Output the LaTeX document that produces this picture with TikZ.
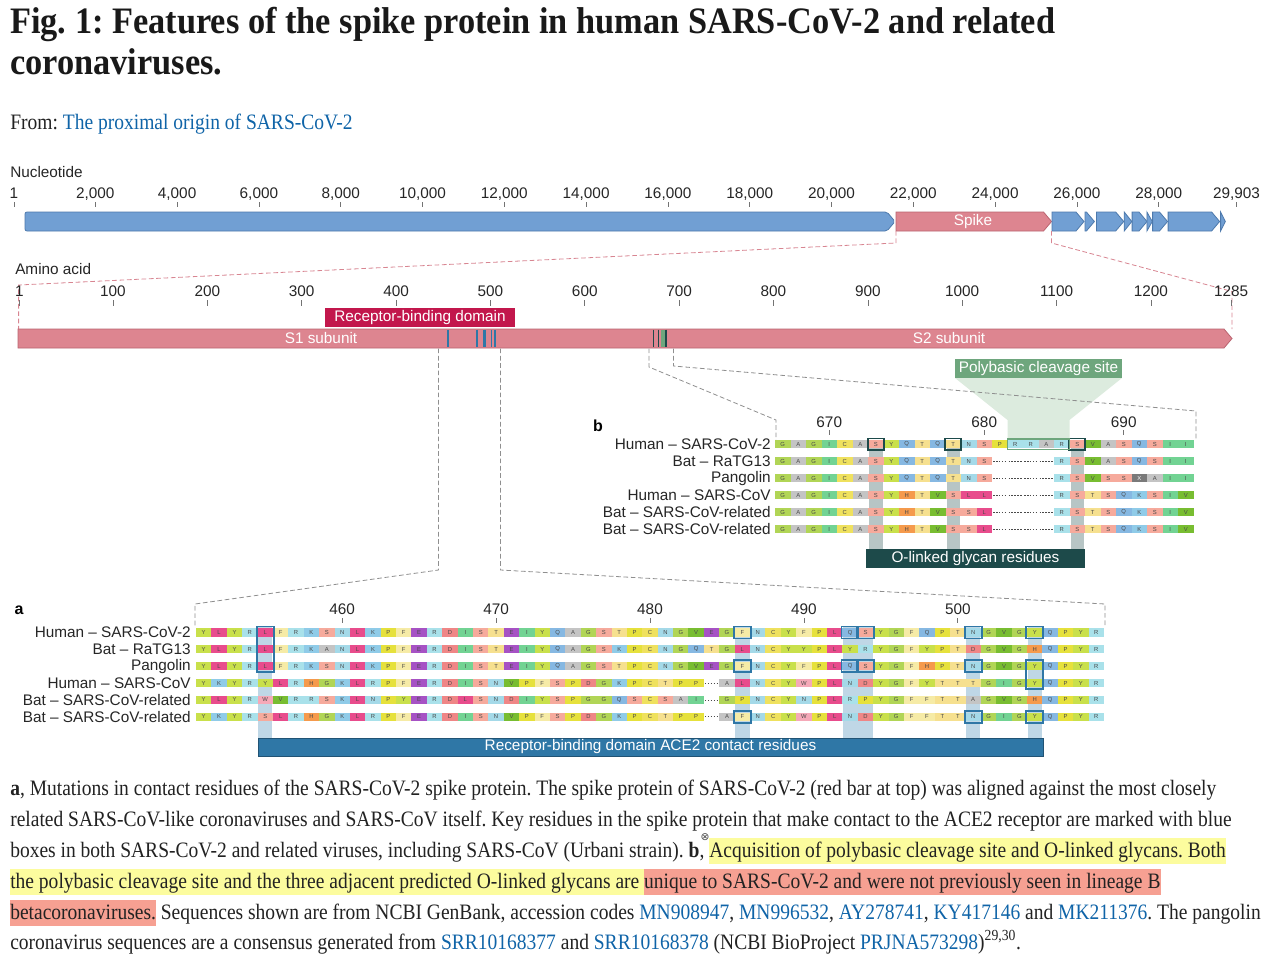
\documentclass[tikz,border=0pt]{standalone}
\usepackage{fontspec}
\setmainfont{Liberation Serif}
\setsansfont{Liberation Sans}
\newfontfamily\capfont[FakeStretch=0.887]{Liberation Serif}
\newfontfamily\headfont[FakeStretch=0.92]{Liberation Serif}
\newfontfamily\marksymbol{DejaVu Sans}
\frenchspacing

\definecolor{geneblue}{HTML}{719FD3}
\definecolor{genebluedark}{HTML}{4D79AC}
\definecolor{spikepink}{HTML}{DD8590}
\definecolor{spikepinkdark}{HTML}{BA6470}
\definecolor{rbdred}{HTML}{C2174C}
\definecolor{polygreen}{HTML}{6EA67D}
\definecolor{polylight}{HTML}{D7E8D9}
\definecolor{olinked}{HTML}{1D4A4A}
\definecolor{olinkband}{HTML}{B7C5C5}
\definecolor{ace2blue}{HTML}{2F77A6}
\definecolor{ace2band}{HTML}{BFD7E6}
\definecolor{linkblue}{HTML}{0F64A8}
\definecolor{captext}{HTML}{222222}
\definecolor{hlyellow}{HTML}{FCFC9E}
\definecolor{hlsalmon}{HTML}{F6A092}
\definecolor{zoomgrey}{HTML}{8F8F8F}
\definecolor{zoompink}{HTML}{D88591}
\definecolor{celltext}{HTML}{4A4A4A}
% residue colours
\definecolor{aaA}{HTML}{C4C4C4}
\definecolor{aaC}{HTML}{EFE15E}
\definecolor{aaD}{HTML}{EF8686}
\definecolor{aaE}{HTML}{A652C4}
\definecolor{aaF}{HTML}{F6EBA6}
\definecolor{aaG}{HTML}{B1D556}
\definecolor{aaH}{HTML}{F59A4C}
\definecolor{aaI}{HTML}{72D393}
\definecolor{aaK}{HTML}{8FCBE8}
\definecolor{aaL}{HTML}{E84C8C}
\definecolor{aaN}{HTML}{A4D9E8}
\definecolor{aaP}{HTML}{E6E13C}
\definecolor{aaQ}{HTML}{86B8E2}
\definecolor{aaR}{HTML}{A9E1EA}
\definecolor{aaS}{HTML}{F6AA9C}
\definecolor{aaT}{HTML}{F6E08F}
\definecolor{aaV}{HTML}{78BD31}
\definecolor{aaW}{HTML}{F5A9B8}
\definecolor{aaX}{HTML}{7A7A7A}
\definecolor{aaY}{HTML}{C9E04B}

\tikzset{
  titletext/.style={anchor=base west, inner sep=0pt, text=black!90, font=\headfont\fontsize{28}{32}\selectfont\bfseries},
  captext/.style={anchor=base west, inner sep=0pt, text=captext, font=\capfont\fontsize{16.5}{19}\selectfont},
  axislabel/.style={anchor=base west, inner sep=0pt, text=black!85, font=\fontsize{11.5}{12}\selectfont\sffamily},
  ticklabel/.style={anchor=base, inner sep=0pt, text=black!85, font=\fontsize{11.5}{12}\selectfont\sffamily},
  seqname/.style={anchor=east, inner sep=0pt, text=black!85, font=\fontsize{11.5}{12}\selectfont\sffamily},
  panellabel/.style={inner sep=0pt, font=\fontsize{12}{12}\selectfont\sffamily\bfseries},
  boxlabel/.style={inner sep=0pt, text=white, font=\fontsize{11.5}{12}\selectfont\sffamily},
  bartext/.style={inner sep=0pt, text=white, font=\fontsize{11.5}{12}\selectfont\sffamily},
  tick/.style={draw=black!55, line width=0.5},
  genebar/.style={draw=genebluedark, fill=geneblue, line width=0.6},
  spikegene/.style={draw=spikepinkdark, fill=spikepink, line width=0.6},
  spikezoom/.style={draw=zoompink, line width=0.6, dash pattern=on 3.5pt off 2pt},
  zoomline/.style={draw=zoomgrey, line width=0.6, dash pattern=on 3.5pt off 2pt},
  ace2stripe/.style={draw=ace2blue, line width=1.2},
  oglystripe/.style={draw=olinked, line width=1.2},
  rescell/.style={inner sep=0pt, minimum height=6.2pt, font=\fontsize{4.4}{4.4}\selectfont\sffamily},
  gapline/.style={draw=celltext, line width=0.4, dash pattern=on 1.2pt off 1pt},
  ace2box/.style={draw=ace2blue, line width=1.3},
  oglybox/.style={draw=olinked, line width=1.3},
  polybox/.style={draw=polygreen, line width=1.3}
}

% one aligned sequence: name, x of first cell edge, y, cell width, residues
\newcommand\seqrow[5]{%
  \foreach \s [count=\i from 0] in {#5}{%
    \if\s-%
      \draw[gapline] ({#2+\i*#4+1},#3) -- ({#2+(\i+1)*#4-1},#3);
    \else
      \if\s X\def\celltc{white}\else\def\celltc{celltext}\fi
      \node[rescell, minimum width=#4*0.75pt, fill=aa\s, text=\celltc] (#1-\i) at ({#2+(\i+0.5)*#4},#3) {\s};
    \fi}}
\newcommand\hly[1]{{\setlength\fboxsep{0pt}\colorbox{hlyellow}{\rule[-5pt]{0pt}{19.5pt}#1}}}
\newcommand\hls[1]{{\setlength\fboxsep{0pt}\colorbox{hlsalmon}{\rule[-5pt]{0pt}{19.5pt}#1}}}
\newcommand\lnk[1]{\textcolor{linkblue}{#1}}

\begin{document}
\begin{tikzpicture}[x=0.75pt,y=0.75pt,yscale=-1,xscale=1]
\useasboundingbox (0,0) rectangle (1272,968);
\fill[white] (0,0) rectangle (1272,968);

%Text Node
\node[titletext] (title1) at (10,33) {Fig. 1: Features of the spike protein in human SARS-CoV-2 and related};
%Text Node
\node[titletext] (title2) at (10,74) {coronaviruses.};
%Text Node
\node[captext] (from) at (10,129) {From: \lnk{The proximal origin of SARS-CoV-2}};

%Text Node
\node[axislabel] (nucl) at (10,177) {Nucleotide};
%Text Node
\node[axislabel] (amino) at (15,274) {Amino acid};

%Straight Lines: nucleotide ticks
\draw[tick] (14,202) -- (14,207);
\node[ticklabel] (nt1) at (14,198) {1};
\foreach \val in {2,4,...,28}{
  \draw[tick] ({13.5+\val*40.9},202) -- ({13.5+\val*40.9},207);
  \node[ticklabel] (nt\val) at ({13.5+\val*40.9},198) {\val,000};
}
\draw[tick] (1236.5,202) -- (1236.5,207);
\node[ticklabel] (nt29903) at (1236.5,198) {29,903};

%Shape: ORF1ab
\draw[genebar, rounded corners=1.5] (25,212) -- (887,212) -- (895,221.5) -- (887,231) -- (25,231) -- cycle;
%Shape: Spike gene
\draw[spikegene] (896,212) -- (1043.5,212) -- (1051.5,221.5) -- (1043.5,231) -- (896,231) -- cycle;
\node[bartext] (spike) at (973,221.5) {Spike};
%Shape: accessory genes
\foreach \a/\b in {1052/1084, 1085/1094.4, 1096.4/1123.7, 1124.2/1131.8, 1132.1/1147, 1146.9/1152.3, 1152.6/1167.5, 1168.1/1219.6, 1220.6/1225.3}{
  \pgfmathsetmacro\tip{min(8,\b-\a)}
  \draw[genebar] (\a,212) -- ({\b-\tip},212) -- (\b,221.5) -- ({\b-\tip},231) -- (\a,231) -- cycle;
}

%Straight Lines: spike zoom
\coordinate (spikeL) at (896,231);
\coordinate (spikeR) at (1051.5,231);
\coordinate (protL) at (18.6,329);
\coordinate (protR) at (1232,329);
\draw[spikezoom] (spikeL) -- ++(0,12) -- (18.6,285) -- (protL);
\draw[spikezoom] (spikeR) -- ++(0,12) -- (1232,291.5) -- (protR);

%Straight Lines: amino acid ticks
\draw[tick] (19.5,300) -- (19.5,306);
\node[ticklabel] (at1) at (19.5,296) {1};
\foreach \val in {100,200,...,1200}{
  \draw[tick] ({18.6+0.9436*\val},300) -- ({18.6+0.9436*\val},306);
  \node[ticklabel] (at\val) at ({18.6+0.9436*\val},296) {\val};
}
\draw[tick] (1231.1,300) -- (1231.1,306);
\node[ticklabel] (at1285) at (1231.1,296) {1285};

%Shape: S protein
\draw[spikegene] (18,329) -- (1224,329) -- (1232,338.5) -- (1224,348) -- (18,348) -- cycle;
\node[bartext] (s1) at (321,338.5) {S1 subunit};
\node[bartext] (s2) at (949,338.5) {S2 subunit};
\foreach \val in {455,486,493,494,501,505}
  \draw[ace2stripe] ({18.6+0.9436*\val},329.6) -- ({18.6+0.9436*\val},347.4);
\fill[polygreen] ({18.6+0.9436*681},329.6) rectangle ({18.6+0.9436*685},347.4);
\foreach \val in {673,678,686}
  \draw[oglystripe] ({18.6+0.9436*\val},329.6) -- ({18.6+0.9436*\val},347.4);

%Shape: Rectangle
\node[boxlabel, fill=rbdred, minimum width=142.5pt, minimum height=14.25pt] (rbd) at (420,317.5) {Receptor-binding domain};

%Shape: cleavage funnel
\fill[polylight, opacity=0.85] (955,378) -- (1122,378) -- (1069.5,420) -- (1069.5,440) -- (1007.5,440) -- (1007.5,420) -- cycle;
%Shape: Rectangle
\node[boxlabel, fill=polygreen, minimum width=125.25pt, minimum height=14.25pt] (poly) at (1038.5,368.5) {Polybasic cleavage site};

%Straight Lines: zoom into panels
\coordinate (rbmL) at (438.5,348.5);
\coordinate (rbmR) at (500.5,348.5);
\coordinate (alnAL) at (195,626);
\coordinate (alnAR) at (1105,626);
\draw[zoomline] (rbmL) -- ++(0,221.5) -- (195,604) -- (alnAL);
\draw[zoomline] (rbmR) -- ++(0,221.5) -- (1105,604) -- (alnAR);
\coordinate (cleavL) at (649,348.5);
\coordinate (cleavR) at (673.5,348.5);
\coordinate (alnBL) at (776,440);
\coordinate (alnBR) at (1196,440);
\draw[zoomline] (cleavL) -- ++(0,18.5) -- (776,420) -- (alnBL);
\draw[zoomline] (cleavR) -- ++(0,17.5) -- (1196,411) -- (alnBR);

% ---------------- panel b ----------------
\node[panellabel] (lblb) at (598,426) {b};
\foreach \c/\val in {3/670,13/680,22/690}{
  \draw[tick] ({775+(\c+0.5)*15.5},430) -- ({775+(\c+0.5)*15.5},435);
  \node[ticklabel] (bt\val) at ({775+(\c+0.5)*15.5},427) {\val};
}
\foreach \c in {6,11,19}
  \fill[olinkband] ({775+\c*15.5+1},440) rectangle ({775+(\c+1)*15.5-1},549);

\node[seqname] (nbHum2) at (771,444.3) {Human -- SARS-CoV-2};
\node[seqname] (nbRaTG) at (771,461.3) {Bat -- RaTG13};
\node[seqname] (nbPang) at (771,478.3) {Pangolin};
\node[seqname] (nbHum1) at (771,495.3) {Human -- SARS-CoV};
\node[seqname] (nbBat1) at (771,512.3) {Bat -- SARS-CoV-related};
\node[seqname] (nbBat2) at (771,529.3) {Bat -- SARS-CoV-related};

\seqrow{bHum2}{775}{444.3}{15.5}{G,A,G,I,C,A,S,Y,Q,T,Q,T,N,S,P,R,R,A,R,S,V,A,S,Q,S,I,I}
\seqrow{bRaTG}{775}{461.3}{15.5}{G,A,G,I,C,A,S,Y,Q,T,Q,T,N,S,-,-,-,-,R,S,V,A,S,Q,S,I,I}
\seqrow{bPang}{775}{478.3}{15.5}{G,A,G,I,C,A,S,Y,Q,T,Q,T,N,S,-,-,-,-,R,S,V,S,S,X,A,I,I}
\seqrow{bHum1}{775}{495.3}{15.5}{G,A,G,I,C,A,S,Y,H,T,V,S,L,L,-,-,-,-,R,S,T,S,Q,K,S,I,V}
\seqrow{bBat1}{775}{512.3}{15.5}{G,A,G,I,C,A,S,Y,H,T,V,S,S,L,-,-,-,-,R,S,T,S,Q,K,S,I,V}
\seqrow{bBat2}{775}{529.3}{15.5}{G,A,G,I,C,A,S,Y,H,T,V,S,S,L,-,-,-,-,R,S,T,S,Q,K,S,I,V}

\foreach \c in {6,11,19}
  \draw[oglybox] ({775+\c*15.5-0.3},438.6) rectangle ({775+(\c+1)*15.5+0.3},450);
\draw[polybox] ({775+15*15.5},439) rectangle ({775+19*15.5},449.6);

%Shape: Rectangle
\node[boxlabel, fill=olinked, minimum width=164.25pt, minimum height=14.25pt] (oglyc) at (975.5,558.5) {O-linked glycan residues};

% ---------------- panel a ----------------
\node[panellabel] (lbla) at (19,610) {a};
\foreach \c/\val in {9/460,19/470,29/480,39/490,49/500}{
  \draw[tick] ({196+(\c+0.5)*15.39},618) -- ({196+(\c+0.5)*15.39},623);
  \node[ticklabel] (atk\val) at ({196+(\c+0.5)*15.39},614) {\val};
}
\foreach \c/\d in {4/4,35/35,42/43,50/50,54/54}
  \fill[ace2band] ({196+\c*15.39+0.5},626) rectangle ({196+(\d+1)*15.39-0.5},738);

\node[seqname] (naHum2) at (191,632.5) {Human -- SARS-CoV-2};
\node[seqname] (naRaTG) at (191,649.35) {Bat -- RaTG13};
\node[seqname] (naPang) at (191,666.2) {Pangolin};
\node[seqname] (naHum1) at (191,683.05) {Human -- SARS-CoV};
\node[seqname] (naBat1) at (191,699.9) {Bat -- SARS-CoV-related};
\node[seqname] (naBat2) at (191,716.75) {Bat -- SARS-CoV-related};

\seqrow{aHum2}{196}{632.5}{15.39}{Y,L,Y,R,L,F,R,K,S,N,L,K,P,F,E,R,D,I,S,T,E,I,Y,Q,A,G,S,T,P,C,N,G,V,E,G,F,N,C,Y,F,P,L,Q,S,Y,G,F,Q,P,T,N,G,V,G,Y,Q,P,Y,R}
\seqrow{aRaTG}{196}{649.35}{15.39}{Y,L,Y,R,L,F,R,K,A,N,L,K,P,F,E,R,D,I,S,T,E,I,Y,Q,A,G,S,K,P,C,N,G,Q,T,G,L,N,C,Y,Y,P,L,Y,R,Y,G,F,Y,P,T,D,G,V,G,H,Q,P,Y,R}
\seqrow{aPang}{196}{666.2}{15.39}{Y,L,Y,R,L,F,R,K,S,N,L,K,P,F,E,R,D,I,S,T,E,I,Y,Q,A,G,S,T,P,C,N,G,V,E,G,F,N,C,Y,F,P,L,Q,S,Y,G,F,H,P,T,N,G,V,G,Y,Q,P,Y,R}
\seqrow{aHum1}{196}{683.05}{15.39}{Y,K,Y,R,Y,L,R,H,G,K,L,R,P,F,E,R,D,I,S,N,V,P,F,S,P,D,G,K,P,C,T,P,P,-,A,L,N,C,Y,W,P,L,N,D,Y,G,F,Y,T,T,T,G,I,G,Y,Q,P,Y,R}
\seqrow{aBat1}{196}{699.9}{15.39}{Y,L,Y,R,W,V,R,R,S,K,L,N,P,Y,E,R,D,L,S,N,D,I,Y,S,P,G,G,Q,S,C,S,A,I,-,G,P,N,C,Y,N,P,L,R,P,Y,G,F,F,T,T,A,G,V,G,H,Q,P,Y,R}
\seqrow{aBat2}{196}{716.75}{15.39}{Y,K,Y,R,S,L,R,H,G,K,L,R,P,F,E,R,D,I,S,N,V,P,F,S,P,D,G,K,P,C,T,P,P,-,A,F,N,C,Y,W,P,L,N,D,Y,G,F,F,T,T,N,G,I,G,Y,Q,P,Y,R}

\foreach \c/\ra/\rb in {4/1/3, 35/1/1, 35/3/3, 35/6/6, 42/1/1, 43/1/1, 42/3/3, 43/3/3, 50/1/1, 50/3/3, 50/6/6, 54/1/1, 54/3/4, 54/6/6}
  \draw[ace2box] ({196+\c*15.39-0.8},{632.5+(\ra-1)*16.85-6}) rectangle ({196+(\c+1)*15.39+0.8},{632.5+(\rb-1)*16.85+6});

%Shape: Rectangle
\node[boxlabel, fill=ace2blue, draw=ace2blue!70!black, line width=0.5, minimum width=588.75pt, minimum height=13.5pt] (ace2) at (650.5,747) {Receptor-binding domain ACE2 contact residues};

% ---------------- caption ----------------
\node[captext] (cap1) at (10,795) {\textbf{a}, Mutations in contact residues of the SARS-CoV-2 spike protein. The spike protein of SARS-CoV-2 (red bar at top) was aligned against the most closely};
\node[captext] (cap2) at (10,826) {related SARS-CoV-like coronaviruses and SARS-CoV itself. Key residues in the spike protein that make contact to the ACE2 receptor are marked with blue};
\node[captext] (cap3) at (10,857) {boxes in both SARS-CoV-2 and related viruses, including SARS-CoV (Urbani strain). \textbf{b}, \hly{Acquisition of polybasic cleavage site and O-linked glycans. Both}};
\node[captext] (cap4) at (10,888) {\hly{the polybasic cleavage site and the three adjacent predicted O-linked glycans are }\hls{unique to SARS-CoV-2 and were not previously seen in lineage B}};
\node[captext] (cap5) at (10,919) {\hls{betacoronaviruses.} Sequences shown are from NCBI GenBank, accession codes \lnk{MN908947}, \lnk{MN996532}, \lnk{AY278741}, \lnk{KY417146} and \lnk{MK211376}. The pangolin};
\node[captext] (cap6) at (10,949) {coronavirus sequences are a consensus generated from \lnk{SRR10168377} and \lnk{SRR10168378} (NCBI BioProject \lnk{PRJNA573298})\textsuperscript{29,30}.};
\node[inner sep=0pt, text=black!70, font=\marksymbol\fontsize{8}{8}\selectfont] (hlmark) at (705,837) {⊗};
\end{tikzpicture}
\end{document}
